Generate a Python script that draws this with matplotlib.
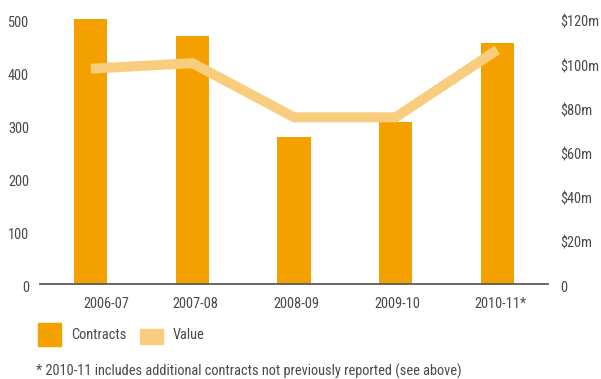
import matplotlib
matplotlib.use("Agg")
import matplotlib.pyplot as plt
import matplotlib.transforms as mtransforms
from matplotlib import font_manager
from matplotlib.patches import Rectangle

# data
years = ["2006-07", "2007-08", "2008-09", "2009-10", "2010-11*"]
contracts = [500, 468, 277, 306, 454]
value_m = [97.5, 100, 75.5, 75.5, 106]
left_ticks = [0, 100, 200, 300, 400, 500]
right_ticks = [0, 20, 40, 60, 80, 100, 120]
right_labels = ["0", "$20m", "$40m", "$60m", "$80m", "$100m", "$120m"]
footnote = "* 2010-11 includes additional contracts not previously reported (see above)"

BAR = "#f4a100"
LINE = "#f9cd7e"
TEXT = "#4a4a4a"

# the original uses a condensed face; take a narrow one if there is one
names = {f.name for f in font_manager.fontManager.ttflist}
fam = "Liberation Sans"
for cand in ["Liberation Sans Narrow", "Roboto Condensed", "DejaVu Sans Condensed"]:
    if cand in names:
        fam = cand
        break
plt.rcParams['font.family'] = [fam, 'DejaVu Sans']

W, H = 601, 379
fig = plt.figure(figsize=(W / 100, H / 100), dpi=100)

# size the text so the footnote spans the same width as in the reference (~426 px)
renderer = fig.canvas.get_renderer()
probe = fig.text(0, 0, footnote, fontsize=12)
fs = 12 * 426 / probe.get_window_extent(renderer).width
probe.remove()
fs = min(fs, 12.5)
plt.rcParams['font.size'] = fs

ax = fig.add_axes([40 / W, 1 - 284 / H, 508 / W, 265 / H])
ax2 = ax.twinx()

x = list(range(len(years)))
ax.bar(x, contracts, width=0.325, color=BAR, zorder=2)
ax2.plot(x, value_m, color=LINE, linewidth=7.2, solid_capstyle='butt',
         solid_joinstyle='miter', zorder=3)

ax.set_xlim(-0.5, 4.5)
ax.set_ylim(0, 500)
ax2.set_ylim(0, 120)

for a in (ax, ax2):
    for s in a.spines.values():
        s.set_visible(False)
    a.tick_params(length=0, colors=TEXT, labelsize=fs)
ax.spines['bottom'].set_visible(True)
ax.spines['bottom'].set_color("#5a5a5a")
ax.spines['bottom'].set_linewidth(1.3)
ax.spines['bottom'].set_zorder(4)

ax.set_xticks(x)
ax.set_xticklabels(years)
ax.tick_params(axis='x', pad=9)
shifts = [16, 2.5, 2, 2, 3]
for lab, dx in zip(ax.get_xticklabels(), shifts):
    lab.set_transform(lab.get_transform() +
                      mtransforms.ScaledTranslation(dx / 100, 0, fig.dpi_scale_trans))

ax.set_yticks(left_ticks)
ax.tick_params(axis='y', pad=8)
for lab in ax.get_yticklabels():
    lab.set_transform(lab.get_transform() +
                      mtransforms.ScaledTranslation(0, -2.5 / 100, fig.dpi_scale_trans))
ax2.set_yticks(right_ticks)
ax2.set_yticklabels(right_labels)
ax2.tick_params(axis='y', pad=9)
for lab in ax2.get_yticklabels():
    lab.set_transform(lab.get_transform() +
                      mtransforms.ScaledTranslation(0, -2.5 / 100, fig.dpi_scale_trans))

# legend drawn by hand
fig.patches.append(Rectangle((38 / W, 1 - 346 / H), 23 / W, 23 / H,
                             color=BAR, transform=fig.transFigure))
fig.patches.append(Rectangle((140 / W, 1 - 344 / H), 23 / W, 15 / H,
                             color=LINE, transform=fig.transFigure))
fig.text(71 / W, 1 - 335 / H, "Contracts", color=TEXT, va='center', ha='left')
fig.text(173 / W, 1 - 335 / H, "Value", color=TEXT, va='center', ha='left')
fig.text(36 / W, 1 - 371 / H, footnote, color=TEXT, va='center', ha='left')

fig.savefig("out.png", dpi=100)
